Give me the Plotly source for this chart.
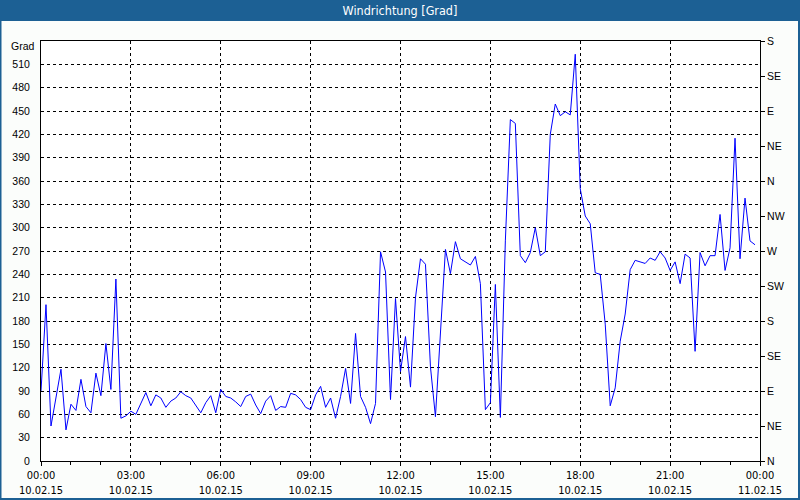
import pandas as pd
import plotly.graph_objects as go

# Wind direction in degrees, 10-minute samples from 10.02.15 00:00 to 23:50
directions = [
    90, 201, 45, 80, 118, 40, 73, 65, 105, 70, 62, 113, 84, 151, 92, 234, 55, 58,
    64, 60, 74, 88, 71, 85, 81, 69, 77, 81, 89, 84, 81, 72, 62, 75, 84, 62,
    92, 83, 81, 76, 70, 83, 86, 72, 61, 77, 84, 65, 70, 69, 87, 85, 79, 69,
    66, 85, 96, 69, 81, 55, 83, 119, 74, 164, 83, 69, 48, 74, 269, 243, 79, 209,
    115, 160, 95, 210, 260, 253, 121, 57, 170, 272, 241, 282, 260, 256, 252, 263, 228, 66,
    75, 227, 56, 283, 439, 434, 264, 255, 268, 300, 264, 269, 420, 459, 444, 449, 445, 523,
    350, 315, 305, 242, 240, 176, 71, 94, 154, 189, 246, 258, 256, 254, 261, 258, 269, 261,
    245, 256, 228, 266, 261, 141, 268, 251, 264, 264, 317, 245, 274, 415, 260, 338, 283, 278,
]
start_time = "2015-02-10 00:00"
sample_interval = "10min"
times = pd.date_range(start=start_time, periods=len(directions), freq=sample_interval)

x_tick_times = ["2015-02-10 00:00", "2015-02-10 03:00", "2015-02-10 06:00",
                "2015-02-10 09:00", "2015-02-10 12:00", "2015-02-10 15:00",
                "2015-02-10 18:00", "2015-02-10 21:00", "2015-02-11 00:00"]
x_tick_labels = ["00:00<br>10.02.15", "03:00<br>10.02.15", "06:00<br>10.02.15",
                 "09:00<br>10.02.15", "12:00<br>10.02.15", "15:00<br>10.02.15",
                 "18:00<br>10.02.15", "21:00<br>10.02.15", "00:00<br>11.02.15"]
y_left_ticks = [0, 30, 60, 90, 120, 150, 180, 210, 240, 270, 300, 330, 360, 390, 420, 450, 480, 510]
y_right_ticks = [0, 45, 90, 135, 180, 225, 270, 315, 360, 405, 450, 495, 540]
y_right_labels = ["N", "NE", "E", "SE", "S", "SW", "W", "NW", "N", "NE", "E", "SE", "S"]

BLUE = "#1c6094"
W, H = 800, 500
ML, MR, MT, MB = 41, 40, 41, 39
PW, PH = W - ML - MR, H - MT - MB

def px_x(px):
    return (px - ML) / PW

def px_y(py):
    return (H - MB - py) / PH

label_font = dict(family="Liberation Sans, Arial, sans-serif", size=10.5, color="black")
narrow_font = dict(family="Liberation Sans Narrow, DejaVu Sans Condensed, Arial Narrow, sans-serif",
                   size=11, color="black")

fig = go.Figure()
fig.add_trace(go.Scatter(x=times, y=directions, mode="lines",
                         line=dict(color="#0000ff", width=1), showlegend=False,
                         hoverinfo="x+y"))
fig.add_trace(go.Scatter(x=[times[0]], y=[0], yaxis="y2", mode="none",
                         showlegend=False, hoverinfo="skip"))

fig.update_layout(
    width=W, height=H,
    margin=dict(l=ML, r=MR, t=MT, b=MB, pad=0, autoexpand=False),
    paper_bgcolor="#fbfdfb", plot_bgcolor="white",
    title=dict(text="Windrichtung [Grad]", x=0.5, xref="container", xanchor="center",
               y=1 - 10.5 / H, yref="container", yanchor="middle", automargin=False,
               font=dict(family="Liberation Sans Narrow, DejaVu Sans Condensed, sans-serif",
                         size=12.5, color="white")),
    xaxis=dict(
        type="date", automargin=False,
        range=["2015-02-10 00:00", "2015-02-11 00:00"],
        tickvals=x_tick_times, ticktext=x_tick_labels,
        tickfont=narrow_font,
        showline=True, linecolor="black", linewidth=1, mirror=True,
        ticks="outside", ticklen=4, tickcolor="black", tickwidth=1,
        showgrid=True, gridcolor="black", gridwidth=1, griddash="3px,3px",
        minor=dict(dtick=3600000, ticks="outside", ticklen=3, tickcolor="black",
                   showgrid=False),
        zeroline=False, fixedrange=True,
    ),
    yaxis=dict(
        range=[0, 540], tickvals=y_left_ticks, automargin=False,
        tickfont=label_font,
        showline=True, linecolor="black", linewidth=1,
        ticks="", ticklabelstandoff=8,
        showgrid=True, gridcolor="black", gridwidth=1, griddash="3px,3px",
        zeroline=False, fixedrange=True,
    ),
    yaxis2=dict(
        range=[0, 540], tickvals=y_right_ticks, ticktext=y_right_labels,
        overlaying="y", side="right", anchor="x", automargin=False,
        tickfont=label_font,
        showline=True, linecolor="black", linewidth=1,
        ticks="outside", ticklen=4, tickcolor="black",
        showgrid=False, zeroline=False, fixedrange=True,
    ),
    annotations=[dict(text="Grad", xref="paper", yref="paper",
                      x=px_x(37), y=px_y(46), xanchor="right", yanchor="middle",
                      showarrow=False, font=label_font)],
    shapes=[
        dict(type="rect", xref="paper", yref="paper", layer="below",
             x0=px_x(0), x1=px_x(W), y0=px_y(0), y1=px_y(21),
             fillcolor=BLUE, line=dict(width=0)),
        dict(type="rect", xref="paper", yref="paper",
             x0=px_x(0.5), x1=px_x(W - 1), y0=px_y(0.5), y1=px_y(H - 1),
             fillcolor="rgba(0,0,0,0)", line=dict(color=BLUE, width=2)),
    ],
)

fig.write_html(
    "out.html",
    config={"displayModeBar": False},
    post_script="document.body.style.margin='0';document.body.style.padding='0';"
                "document.body.style.overflow='hidden';",
)
